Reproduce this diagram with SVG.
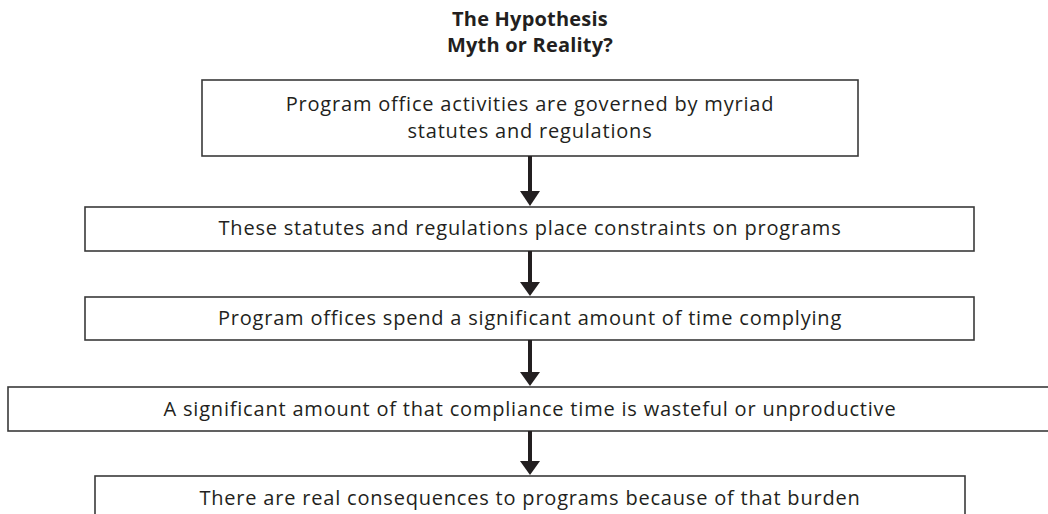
<svg xmlns="http://www.w3.org/2000/svg" width="1048" height="514" viewBox="0 0 1048 514">
<defs>
<style>
.box{fill:#fff;stroke:#3a3a3a;stroke-width:1.6}
.t{font-family:"Open Sans","Noto Sans",sans-serif;font-size:20px;letter-spacing:0.8px;fill:#231f20;text-anchor:middle}
.title{font-family:"Open Sans","Noto Sans",sans-serif;font-size:20px;letter-spacing:0.2px;font-weight:bold;fill:#231f20;text-anchor:middle}
.shaft{stroke:#231f20;stroke-width:4}
.head{fill:#231f20}
</style>
</defs>
<rect width="1048" height="514" fill="#fff"/>
<g id="title">
<text class="title" x="530" y="26">The Hypothesis</text>
<text class="title" x="530" y="52">Myth or Reality?</text>
</g>
<g id="node1">
<rect class="box" x="202" y="80" width="656" height="76"/>
<text class="t" x="530" y="111">Program office activities are governed by myriad</text>
<text class="t" x="530" y="138">statutes and regulations</text>
</g>
<g id="node2">
<rect class="box" x="85" y="207" width="889" height="44"/>
<text class="t" x="530" y="235">These statutes and regulations place constraints on programs</text>
</g>
<g id="node3">
<rect class="box" x="85" y="297" width="889" height="43"/>
<text class="t" x="530" y="325">Program offices spend a significant amount of time complying</text>
</g>
<g id="node4">
<rect class="box" x="8" y="387" width="1044" height="44"/>
<text class="t" x="530" y="416">A significant amount of that compliance time is wasteful or unproductive</text>
</g>
<g id="node5">
<rect class="box" x="95" y="476" width="870" height="44"/>
<text class="t" x="530" y="505">There are real consequences to programs because of that burden</text>
</g>
<g id="connectors">
<line class="shaft" x1="530" y1="156" x2="530" y2="192"/>
<polygon class="head" points="520,191 540,191 530,206"/>
<line class="shaft" x1="530" y1="251" x2="530" y2="283"/>
<polygon class="head" points="520,282 540,282 530,296"/>
<line class="shaft" x1="530" y1="340" x2="530" y2="373"/>
<polygon class="head" points="520,372 540,372 530,386"/>
<line class="shaft" x1="530" y1="431" x2="530" y2="462"/>
<polygon class="head" points="520,461 540,461 530,475"/>
</g>
</svg>
